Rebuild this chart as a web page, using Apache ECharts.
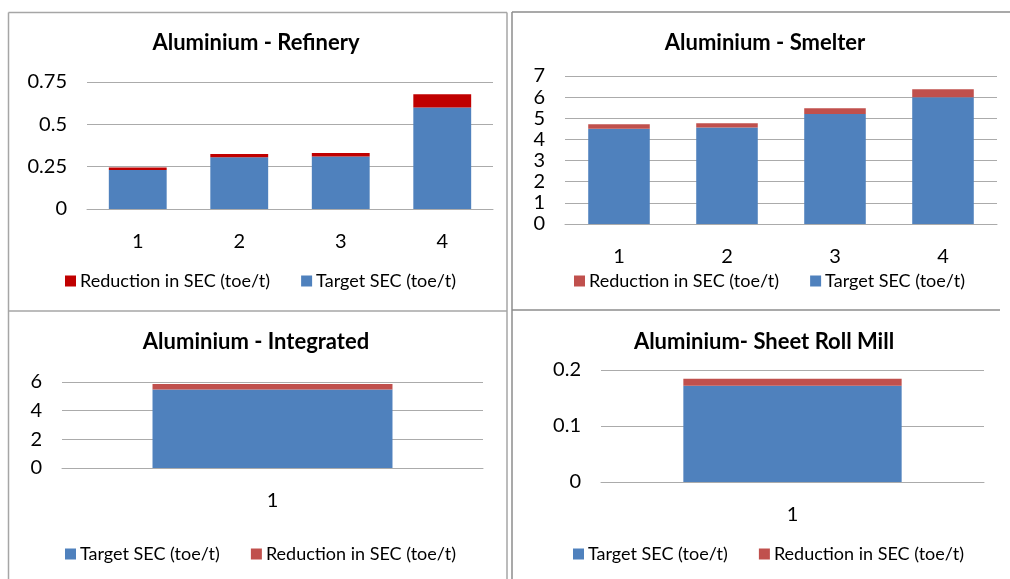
<!DOCTYPE html>
<html>
<head>
<meta charset="utf-8">
<script src="https://cdn.jsdelivr.net/npm/echarts@6/dist/echarts.min.js"></script>
<style>
  html, body { margin: 0; padding: 0; background: #fff; }
  #main { width: 1010px; height: 579px; }
</style>
</head>
<body>
<div id="main"></div>
<script>
// ---- Data ----
const refineryCats = ['1', '2', '3', '4'];
const refineryTarget = [0.23, 0.305, 0.31, 0.60];
const refineryReduction = [0.015, 0.02, 0.02, 0.078];

const smelterCats = ['1', '2', '3', '4'];
const smelterTarget = [4.5, 4.56, 5.2, 6.0];
const smelterReduction = [0.22, 0.2, 0.27, 0.37];

const integratedCats = ['1'];
const integratedTarget = [5.47];
const integratedReduction = [0.39];

const rollMillCats = ['1'];
const rollMillTarget = [0.172];
const rollMillReduction = [0.0125];

const titles = ['Aluminium - Refinery', 'Aluminium - Smelter', 'Aluminium - Integrated', 'Aluminium- Sheet Roll Mill'];
const nameTarget = 'Target SEC (toe/t)';
const nameReduction = 'Reduction in SEC (toe/t)';

// ---- Styling ----
const FONT = 'Lato';
const BLUE = '#4F81BD';
const DARKRED = '#C00000';
const RED = '#C0504D';
const GRIDC = '#ABABAB';

const chart = echarts.init(document.getElementById('main'), null, { renderer: 'canvas' });

const grids = [
  { left: 87, top: 82, width: 406, height: 127 },
  { left: 565, top: 76, width: 432, height: 148 },
  { left: 62, top: 382, width: 421, height: 86 },
  { left: 601, top: 370, width: 383, height: 112 }
];
const yCfg = [
  { max: 0.75, interval: 0.25 },
  { max: 7, interval: 1 },
  { max: 6, interval: 2 },
  { max: 0.2, interval: 0.1 }
];
const cats = [refineryCats, smelterCats, integratedCats, rollMillCats];
const titlePos = [[256, 32], [765, 32], [256, 331], [764, 331]];
const legendPos = [[65, 272], [574, 272], [65, 545], [573, 545]];

const xAxes = cats.map((c, i) => ({
  type: 'category', gridIndex: i, data: c,
  axisLine: { show: true, lineStyle: { color: GRIDC, width: 1 } },
  axisTick: { show: false },
  axisLabel: { color: '#000', fontFamily: FONT, fontSize: 20, margin: 23 }
}));
const yAxes = yCfg.map((y, i) => ({
  type: 'value', gridIndex: i, min: 0, max: y.max, interval: y.interval,
  axisLine: { show: false }, axisTick: { show: false },
  splitLine: { lineStyle: { color: GRIDC, width: 1 } },
  axisLabel: { color: '#000', fontFamily: FONT, fontSize: 20, margin: 20 }
}));

function bar(name, data, i, color) {
  return {
    type: 'bar', name: name, data: data, xAxisIndex: i, yAxisIndex: i,
    stack: 's' + i, barWidth: '57%', itemStyle: { color: color },
    legendHoverLink: false, animation: false
  };
}

const series = [
  bar(nameTarget, refineryTarget, 0, BLUE),
  bar(nameReduction, refineryReduction, 0, DARKRED),
  bar(nameTarget, smelterTarget, 1, BLUE),
  bar(nameReduction, smelterReduction, 1, RED),
  bar(nameTarget, integratedTarget, 2, BLUE),
  bar(nameReduction, integratedReduction, 2, RED),
  bar(nameTarget, rollMillTarget, 3, BLUE),
  bar(nameReduction, rollMillReduction, 3, RED)
];

const legendOrders = [
  [nameReduction, nameTarget],
  [nameReduction, nameTarget],
  [nameTarget, nameReduction],
  [nameTarget, nameReduction]
];
const legendColors = [
  { [nameReduction]: DARKRED, [nameTarget]: BLUE },
  { [nameReduction]: RED, [nameTarget]: BLUE },
  { [nameReduction]: RED, [nameTarget]: BLUE },
  { [nameReduction]: RED, [nameTarget]: BLUE }
];

const legends = legendOrders.map((ord, i) => ({
  left: legendPos[i][0], top: legendPos[i][1], orient: 'horizontal',
  itemWidth: 11, itemHeight: 11, itemGap: 31, padding: 0,
  selectedMode: false, icon: 'rect',
  data: ord.map(n => ({ name: n, itemStyle: { color: legendColors[i][n] } })),
  textStyle: { color: '#000', fontFamily: FONT, fontSize: 18, padding: [0, 0, 0, -1] }
}));

const titleOpts = titles.map((t, i) => ({
  text: t, left: titlePos[i][0], top: titlePos[i][1], textAlign: 'center', padding: 0,
  textStyle: { color: '#000', fontFamily: FONT, fontSize: 22, fontWeight: 'bold' }
}));

function line(x1, y1, x2, y2, color, w) {
  return { type: 'line', silent: true, shape: { x1, y1, x2, y2 }, style: { stroke: color, lineWidth: w } };
}
const LIGHT = '#A6A6A6';
const DARK = '#8C8C8C';
const graphics = [
  // left panels
  line(8.5, 12.5, 507, 12.5, LIGHT, 1.5),
  line(8.5, 12.5, 8.5, 579, LIGHT, 1.5),
  line(507, 12.5, 507, 579, LIGHT, 1.5),
  line(8.5, 311, 507, 311, LIGHT, 1.5),
  // right panels
  line(512, 12, 1010, 12, DARK, 1.5),
  line(512, 12, 512, 579, DARK, 1.5),
  line(512, 310, 1000, 310, DARK, 1.5)
];

chart.setOption({
  backgroundColor: '#fff',
  animation: false,
  title: titleOpts,
  legend: legends,
  grid: grids,
  xAxis: xAxes,
  yAxis: yAxes,
  series: series,
  graphic: graphics
});
</script>
</body>
</html>
